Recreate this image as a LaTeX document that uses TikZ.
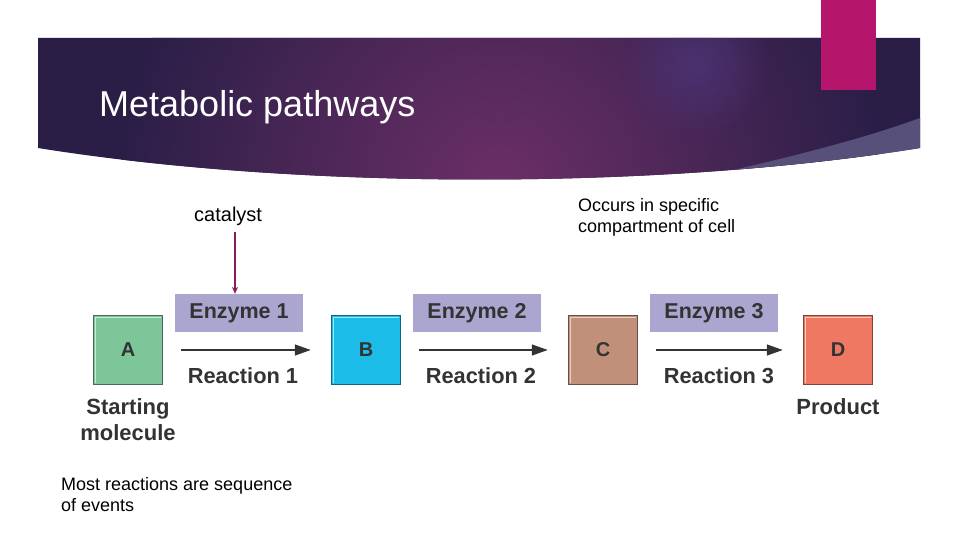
\documentclass[tikz,border=0pt]{standalone}
\usepackage{fontspec}
\setmainfont{Liberation Sans}
\usetikzlibrary{arrows.meta,fadings}
\definecolor{navy}{HTML}{2A1E47}
\definecolor{plum}{HTML}{6C2F66}
\definecolor{glowc}{HTML}{4A3272}
\definecolor{wedge}{HTML}{56507A}
\definecolor{magbar}{HTML}{B5166C}
\definecolor{lav}{HTML}{ABA6D0}
\definecolor{gA}{HTML}{7CC69A}
\definecolor{gB}{HTML}{1CBCE8}
\definecolor{gC}{HTML}{C0907A}
\definecolor{gD}{HTML}{EE7862}
\definecolor{txt}{HTML}{333333}
\definecolor{catcol}{HTML}{8A1C5C}
\tikzfading[name=softglow, inner color=transparent!0, outer color=transparent!100]
\tikzset{
  mol/.style={minimum width=69pt,minimum height=69pt,inner sep=0pt,draw=#1!55!black,line width=1.5pt,font=\bfseries\fontsize{20}{22}\selectfont,text=txt},
  enz/.style={fill=lav,minimum width=128pt,minimum height=38pt,inner sep=0pt,font=\bfseries\fontsize{21.5}{24}\selectfont,text=txt},
  rlab/.style={font=\bfseries\fontsize{21.8}{24}\selectfont,text=txt},
  react/.style={line width=1.4pt,draw=txt,-{Triangle[length=16pt,width=11pt]},shorten <=18pt,shorten >=20pt},
  body/.style={font=\fontsize{18}{21}\selectfont,align=left,anchor=west,inner sep=0pt},
}
\begin{document}
\begin{tikzpicture}[x=1pt,y=-1pt]
\useasboundingbox (0,0) rectangle (960,540);
\fill[white] (0,0) rectangle (960,540);
% banner
\begin{scope}
\clip (38,38) -- (920,38) -- (920,148) .. controls (660,190) and (300,190) .. (38,148) -- cycle;
\fill[navy] (0,0) rectangle (960,200);
\shade[inner color=plum,outer color=navy] (500,190) circle (380);
\fill[glowc,path fading=softglow] (695,65) circle (75);
\fill[wedge] (680,182) .. controls (780,160) and (860,140) .. (920,118) -- (930,118) -- (930,200) -- cycle;
\end{scope}
\fill[magbar] (821,0) rectangle (876,90);
\node[anchor=base west,text=white,font=\fontsize{36}{40}\selectfont,inner sep=0pt] (title) at (99,117) {Metabolic pathways};
% molecules
\node[mol=gA,fill=gA] (A) at (128,350) {A};
\node[mol=gB,fill=gB] (B) at (366,350) {B};
\node[mol=gC,fill=gC] (C) at (603,350) {C};
\node[mol=gD,fill=gD] (D) at (838,350) {D};
\foreach \n in {A,B,C,D}{
  \draw[white,opacity=0.6,line width=1.5pt] ([shift={(2.5,-2.5)}]\n.south west) -- ([shift={(2.5,2.5)}]\n.north west) -- ([shift={(-2.5,2.5)}]\n.north east);
}
% enzymes
\node[enz] (e1) at (239,313) {Enzyme 1};
\node[enz] (e2) at (477,313) {Enzyme 2};
\node[enz] (e3) at (714,313) {Enzyme 3};
% reactions
\draw[react] (A) -- (B);
\draw[react] (B) -- (C);
\draw[react] (C) -- (D);
\node[rlab] (r1) at (243,376) {Reaction 1};
\node[rlab] (r2) at (481,376) {Reaction 2};
\node[rlab] (r3) at (719,376) {Reaction 3};
\node[rlab,align=center,font=\bfseries\fontsize{22}{26}\selectfont] (start) at (128,420) {Starting\\molecule};
\node[rlab,font=\bfseries\fontsize{22}{24}\selectfont] (prod) at (838,407) {Product};
% annotations
\node[body,font=\fontsize{20}{22}\selectfont] (cat) at (194,216) {catalyst};
\coordinate (catfoot) at (235,232);
\draw[catcol,line width=1.5pt,-{Stealth[length=7pt,width=6pt]}] (catfoot) -- (catfoot |- e1.north);
\node[body] (occ) at (578,217) {Occurs in specific\\compartment of cell};
\node[body] (most) at (61,495) {Most reactions are sequence\\of events};
\end{tikzpicture}
\end{document}
